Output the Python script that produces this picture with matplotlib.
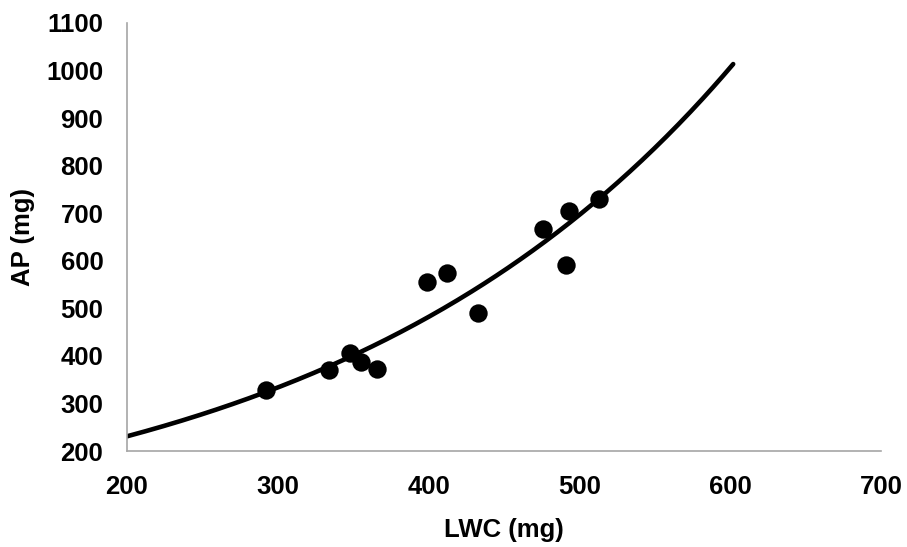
import numpy as np
import matplotlib
matplotlib.use("Agg")
import matplotlib.pyplot as plt

# %% Data

lwc = [292, 334, 348, 355, 366, 399, 412, 433, 476, 493, 491, 513]
ap = [328, 370, 407, 387, 372, 555, 575, 491, 666, 704, 591, 730]

# Exponential trendline AP = a * exp(b * LWC)
trend_a = 110.6
trend_b = 0.00368
trend_x0 = 200
trend_x1 = 602

x_ticks = [200, 300, 400, 500, 600, 700]
y_ticks = [200, 300, 400, 500, 600, 700, 800, 900, 1000, 1100]

# %% Plot

plt.rcParams["font.family"] = ["Liberation Sans", "DejaVu Sans"]
plt.rcParams["font.weight"] = "bold"

fig = plt.figure(figsize=(9.07, 5.47), dpi=100)
ax = fig.add_axes([0.140, 0.1755, 0.8313, 0.7825])

xt = np.linspace(trend_x0, trend_x1, 300)
ax.plot(xt, trend_a * np.exp(trend_b * xt), color="black", linewidth=3.3,
        solid_capstyle="round", zorder=2)
ax.scatter(lwc, ap, s=175, color="black", zorder=3, linewidths=0)

ax.set_xlim(200, 700)
ax.set_ylim(200, 1100)
ax.set_xticks(x_ticks)
ax.set_yticks(y_ticks)
ax.tick_params(length=0, labelsize=18.5)
ax.tick_params(axis="x", pad=17)
ax.tick_params(axis="y", pad=17)

for side in ["top", "right"]:
    ax.spines[side].set_visible(False)
for side in ["left", "bottom"]:
    ax.spines[side].set_color("#a6a6a6")
    ax.spines[side].set_linewidth(1.2)

ax.set_xlabel("LWC (mg)", fontsize=18.5, fontweight="bold")
ax.set_ylabel("AP (mg)", fontsize=18.5, fontweight="bold")
ax.xaxis.label.set_va("center")
ax.xaxis.set_label_coords(0.5, -0.1846)
ax.yaxis.label.set_va("center")
ax.yaxis.set_label_coords(-0.138, 0.5)

fig.savefig("out.png", dpi=100)
